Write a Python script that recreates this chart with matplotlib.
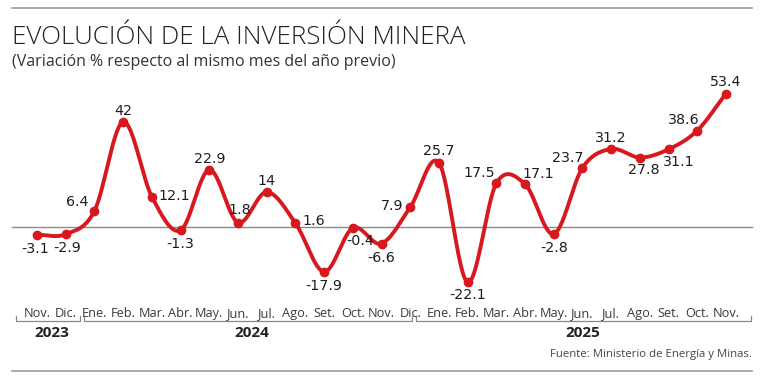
import numpy as np
import matplotlib
matplotlib.use("Agg")
import matplotlib.pyplot as plt
from matplotlib.lines import Line2D

months = ["Nov.", "Dic.", "Ene.", "Feb.", "Mar.", "Abr.", "May.", "Jun.", "Jul.", "Ago.", "Set.", "Oct.", "Nov.",
          "Dic.", "Ene.", "Feb.", "Mar.", "Abr.", "May.", "Jun.", "Jul.", "Ago.", "Set.", "Oct.", "Nov."]
values = [-3.1, -2.9, 6.4, 42, 12.1, -1.3, 22.9, 1.8, 14, 1.6, -17.9, -0.4, -6.6,
          7.9, 25.7, -22.1, 17.5, 17.1, -2.8, 23.7, 31.2, 27.8, 31.1, 38.6, 53.4]
labels = ["-3.1", "-2.9", "6.4", "42", "12.1", "-1.3", "22.9", "1.8", "14", "1.6", "-17.9", "-0.4", "-6.6",
          "7.9", "25.7", "-22.1", "17.5", "17.1", "-2.8", "23.7", "31.2", "27.8", "31.1", "38.6", "53.4"]
years = ["2023", "2024", "2025"]
year_ranges = [(0, 1), (2, 13), (14, 24)]

# label offsets in pixels (dx, dy; dy positive = up)
offsets = [(-2, -14), (1, -14), (-17, 9), (0, 11), (22, 1), (0, -14), (0, 11), (2, 13), (0, 11), (18, 2),
           (0, -14), (7, -13), (0, -14), (-18, 1), (0, 12), (0, -13), (-17, 10), (13, 10), (0, -14),
           (-15, 10), (0, 11), (4, -13), (10, -13), (-14, 11), (0, 12)]

W, H = 760, 377
fig = plt.figure(figsize=(W / 100, H / 100), dpi=100)
ax = fig.add_axes([0, 0, 1, 1])
ax.set_axis_off()

x0px, step = 37.0, 28.71
y0px, yscale = 227.0, 2.5
ax.set_xlim(-x0px / step, (W - x0px) / step)
ax.set_ylim((y0px - H) / yscale, y0px / yscale)

x = np.arange(len(values))
y = np.array(values, dtype=float)

# Catmull-Rom spline through the points
def catmull(xs, ys, n=30):
    px = np.concatenate([[2 * xs[0] - xs[1]], xs, [2 * xs[-1] - xs[-2]]])
    py = np.concatenate([[2 * ys[0] - ys[1]], ys, [2 * ys[-1] - ys[-2]]])
    ox, oy = [], []
    for i in range(1, len(px) - 2):
        t = np.linspace(0, 1, n, endpoint=False)
        for arr, out in ((px, ox), (py, oy)):
            p0, p1, p2, p3 = arr[i - 1], arr[i], arr[i + 1], arr[i + 2]
            out.extend(0.5 * ((2 * p1) + (-p0 + p2) * t + (2 * p0 - 5 * p1 + 4 * p2 - p3) * t ** 2
                              + (-p0 + 3 * p1 - 3 * p2 + p3) * t ** 3))
    ox.append(xs[-1]); oy.append(ys[-1])
    return np.array(ox), np.array(oy)

sx, sy = catmull(x.astype(float), y)

# zero line
ax.plot([(12 - x0px) / step, (752 - x0px) / step], [0, 0], color="#8a8a8a", lw=1.0, zorder=1)

red = "#d7191f"
ax.plot(sx, sy, color=red, lw=2.8, zorder=3, solid_capstyle="round")
ax.plot(x, y, "o", color=red, ms=6, zorder=4)

for i, (v, lab) in enumerate(zip(values, labels)):
    dx, dy = offsets[i]
    ax.annotate(lab, (i, v), xytext=(dx * 0.72, dy * 0.72), textcoords="offset points",
                ha="center", va="center", fontsize=10.3, color="#1e1e1e", family="DejaVu Sans", zorder=5)

# month labels
for i, m in enumerate(months):
    ax.text(i, (y0px - 317) / yscale, m, ha="center", va="baseline", fontsize=9.2,
            color="#3a3a3a", family="Open Sans")

# year brackets
ybr = (y0px - 321) / yscale
ytk = (y0px - 316) / yscale
br_px = [(16, 80), (84, 412), (416, 751)]
for (a, b), yr, (i0, i1) in zip(br_px, years, year_ranges):
    xa, xb = (a - x0px) / step, (b - x0px) / step
    ax.plot([xa, xa, xb, xb], [ytk, ybr, ybr, ytk], color="#888888", lw=0.9)
    ax.text((i0 + i1) / 2, (y0px - 337) / yscale, yr, ha="center", va="baseline", fontsize=11,
            fontweight="bold", color="#222222", family="Open Sans")

# top and bottom rules
fig.add_artist(Line2D([12 / W, 752 / W], [1 - 8 / H, 1 - 8 / H], color="#999999", lw=1.2))
fig.add_artist(Line2D([12 / W, 752 / W], [1 - 371 / H, 1 - 371 / H], color="#999999", lw=1.2))

fig.text(12 / W, 1 - 38 / H, "EVOLUCIÓN DE LA INVERSIÓN MINERA", ha="left", va="center",
         fontsize=18.7, color="#222222", family="Open Sans", fontweight="light")
fig.text(12 / W, 1 - 62 / H, "(Variación % respecto al mismo mes del año previo)", ha="left", va="center",
         fontsize=11.5, color="#333333", family="Open Sans")
fig.text(752 / W, 1 - 354 / H, "Fuente: Ministerio de Energía y Minas.", ha="right", va="center",
         fontsize=8.2, color="#444444", family="Open Sans")

fig.savefig("out.png", dpi=100, facecolor="white")
